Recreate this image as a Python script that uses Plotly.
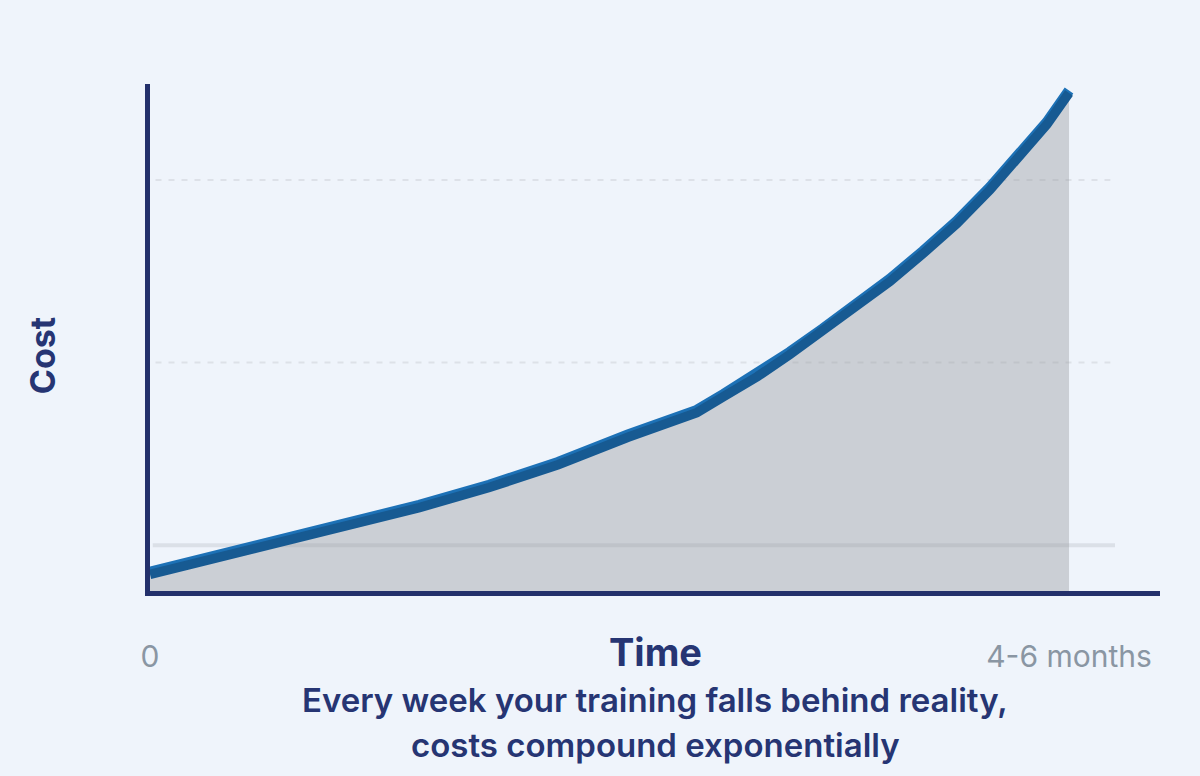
import plotly.graph_objects as go

# time as % of the 4-6 month window, cost in arbitrary units
time_pct = [0, 7.4, 15.0, 22.1, 29.3, 36.9, 44.4, 52.0, 59.5,
            62.4, 66.1, 69.6, 73.2, 76.9, 80.5, 84.1, 87.8, 91.4,
            95.0, 97.6, 100]
cost = [4.2, 7.9, 11.6, 14.9, 18.8, 23.2, 28.2, 34.2, 39.6,
        43.1, 47.5, 52.3, 57.4, 62.6, 68.3, 74.4, 81.0, 88.4,
        96.3, 102.7, 109.6]

tick_vals = [0, 100]
tick_text = ["0", "4-6 months"]
grid_solid = [10]
grid_dashed = [50, 90]

navy = "#263573"
bg = "#eff4fb"
font = "Inter"

y_range = [0, 111]
shadow_shift = 0.55

fig = go.Figure()

# grey area under the curve
fig.add_trace(go.Scatter(x=time_pct, y=cost, mode="lines", fill="tozeroy",
                         fillcolor="rgba(150,153,157,0.40)",
                         line=dict(width=0), hoverinfo="skip"))
# darker under-edge of the line
fig.add_trace(go.Scatter(x=time_pct, y=cost, mode="lines", yaxis="y2",
                         line=dict(color="#175a92", width=9.5), hoverinfo="skip"))
fig.add_trace(go.Scatter(x=time_pct, y=cost, mode="lines",
                         line=dict(color="#1d71b6", width=10.5)))

for g in grid_solid:
    fig.add_shape(type="line", x0=0.3, x1=105, y0=g, y1=g, layer="below",
                  line=dict(color="rgba(205,210,218,0.6)", width=4))
for g in grid_dashed:
    fig.add_shape(type="line", x0=0.6, x1=104.5, y0=g, y1=g, layer="below",
                  line=dict(color="#dde1e8", width=2, dash="6px,7px"))

fig.update_layout(
    width=1200, height=776,
    margin=dict(l=150, r=40, t=84, b=185),
    paper_bgcolor=bg, plot_bgcolor=bg,
    showlegend=False,
    font=dict(family=font, color=navy),
    xaxis=dict(range=[0, 109.9], showgrid=False, zeroline=False,
               showline=True, linecolor="#23306b", linewidth=5,
               tickvals=tick_vals, ticktext=tick_text, ticks="",
               ticklabelstandoff=35,
               tickfont=dict(size=30, color="#8a96a3", family=font)),
    yaxis=dict(range=y_range, showgrid=False, zeroline=False,
               showline=True, linecolor="#23306b", linewidth=5,
               showticklabels=False, ticks=""),
    yaxis2=dict(range=[y_range[0] + shadow_shift, y_range[1] + shadow_shift],
                overlaying="y", visible=False),
)

fig.add_annotation(text="Cost", xref="paper", yref="paper",
                   x=-0.107, y=0.465, xanchor="center", yanchor="middle",
                   textangle=-90, showarrow=False,
                   font=dict(size=34, color=navy, family=font, weight=700))
fig.add_annotation(text="Time", xref="paper", yref="paper",
                   x=0.5, y=-0.12, xanchor="center", yanchor="middle",
                   showarrow=False,
                   font=dict(size=38, color=navy, family=font, weight=700))
fig.add_annotation(text="Every week your training falls behind reality,",
                   xref="paper", yref="paper", x=0.5, y=-0.215,
                   xanchor="center", yanchor="middle", showarrow=False,
                   font=dict(size=33, color=navy, family=font, weight=600))
fig.add_annotation(text="costs compound exponentially",
                   xref="paper", yref="paper", x=0.5, y=-0.304,
                   xanchor="center", yanchor="middle", showarrow=False,
                   font=dict(size=33, color=navy, family=font, weight=600))

fig.write_html("out.html", config={"displayModeBar": False},
               post_script="document.body.style.margin='0';")
